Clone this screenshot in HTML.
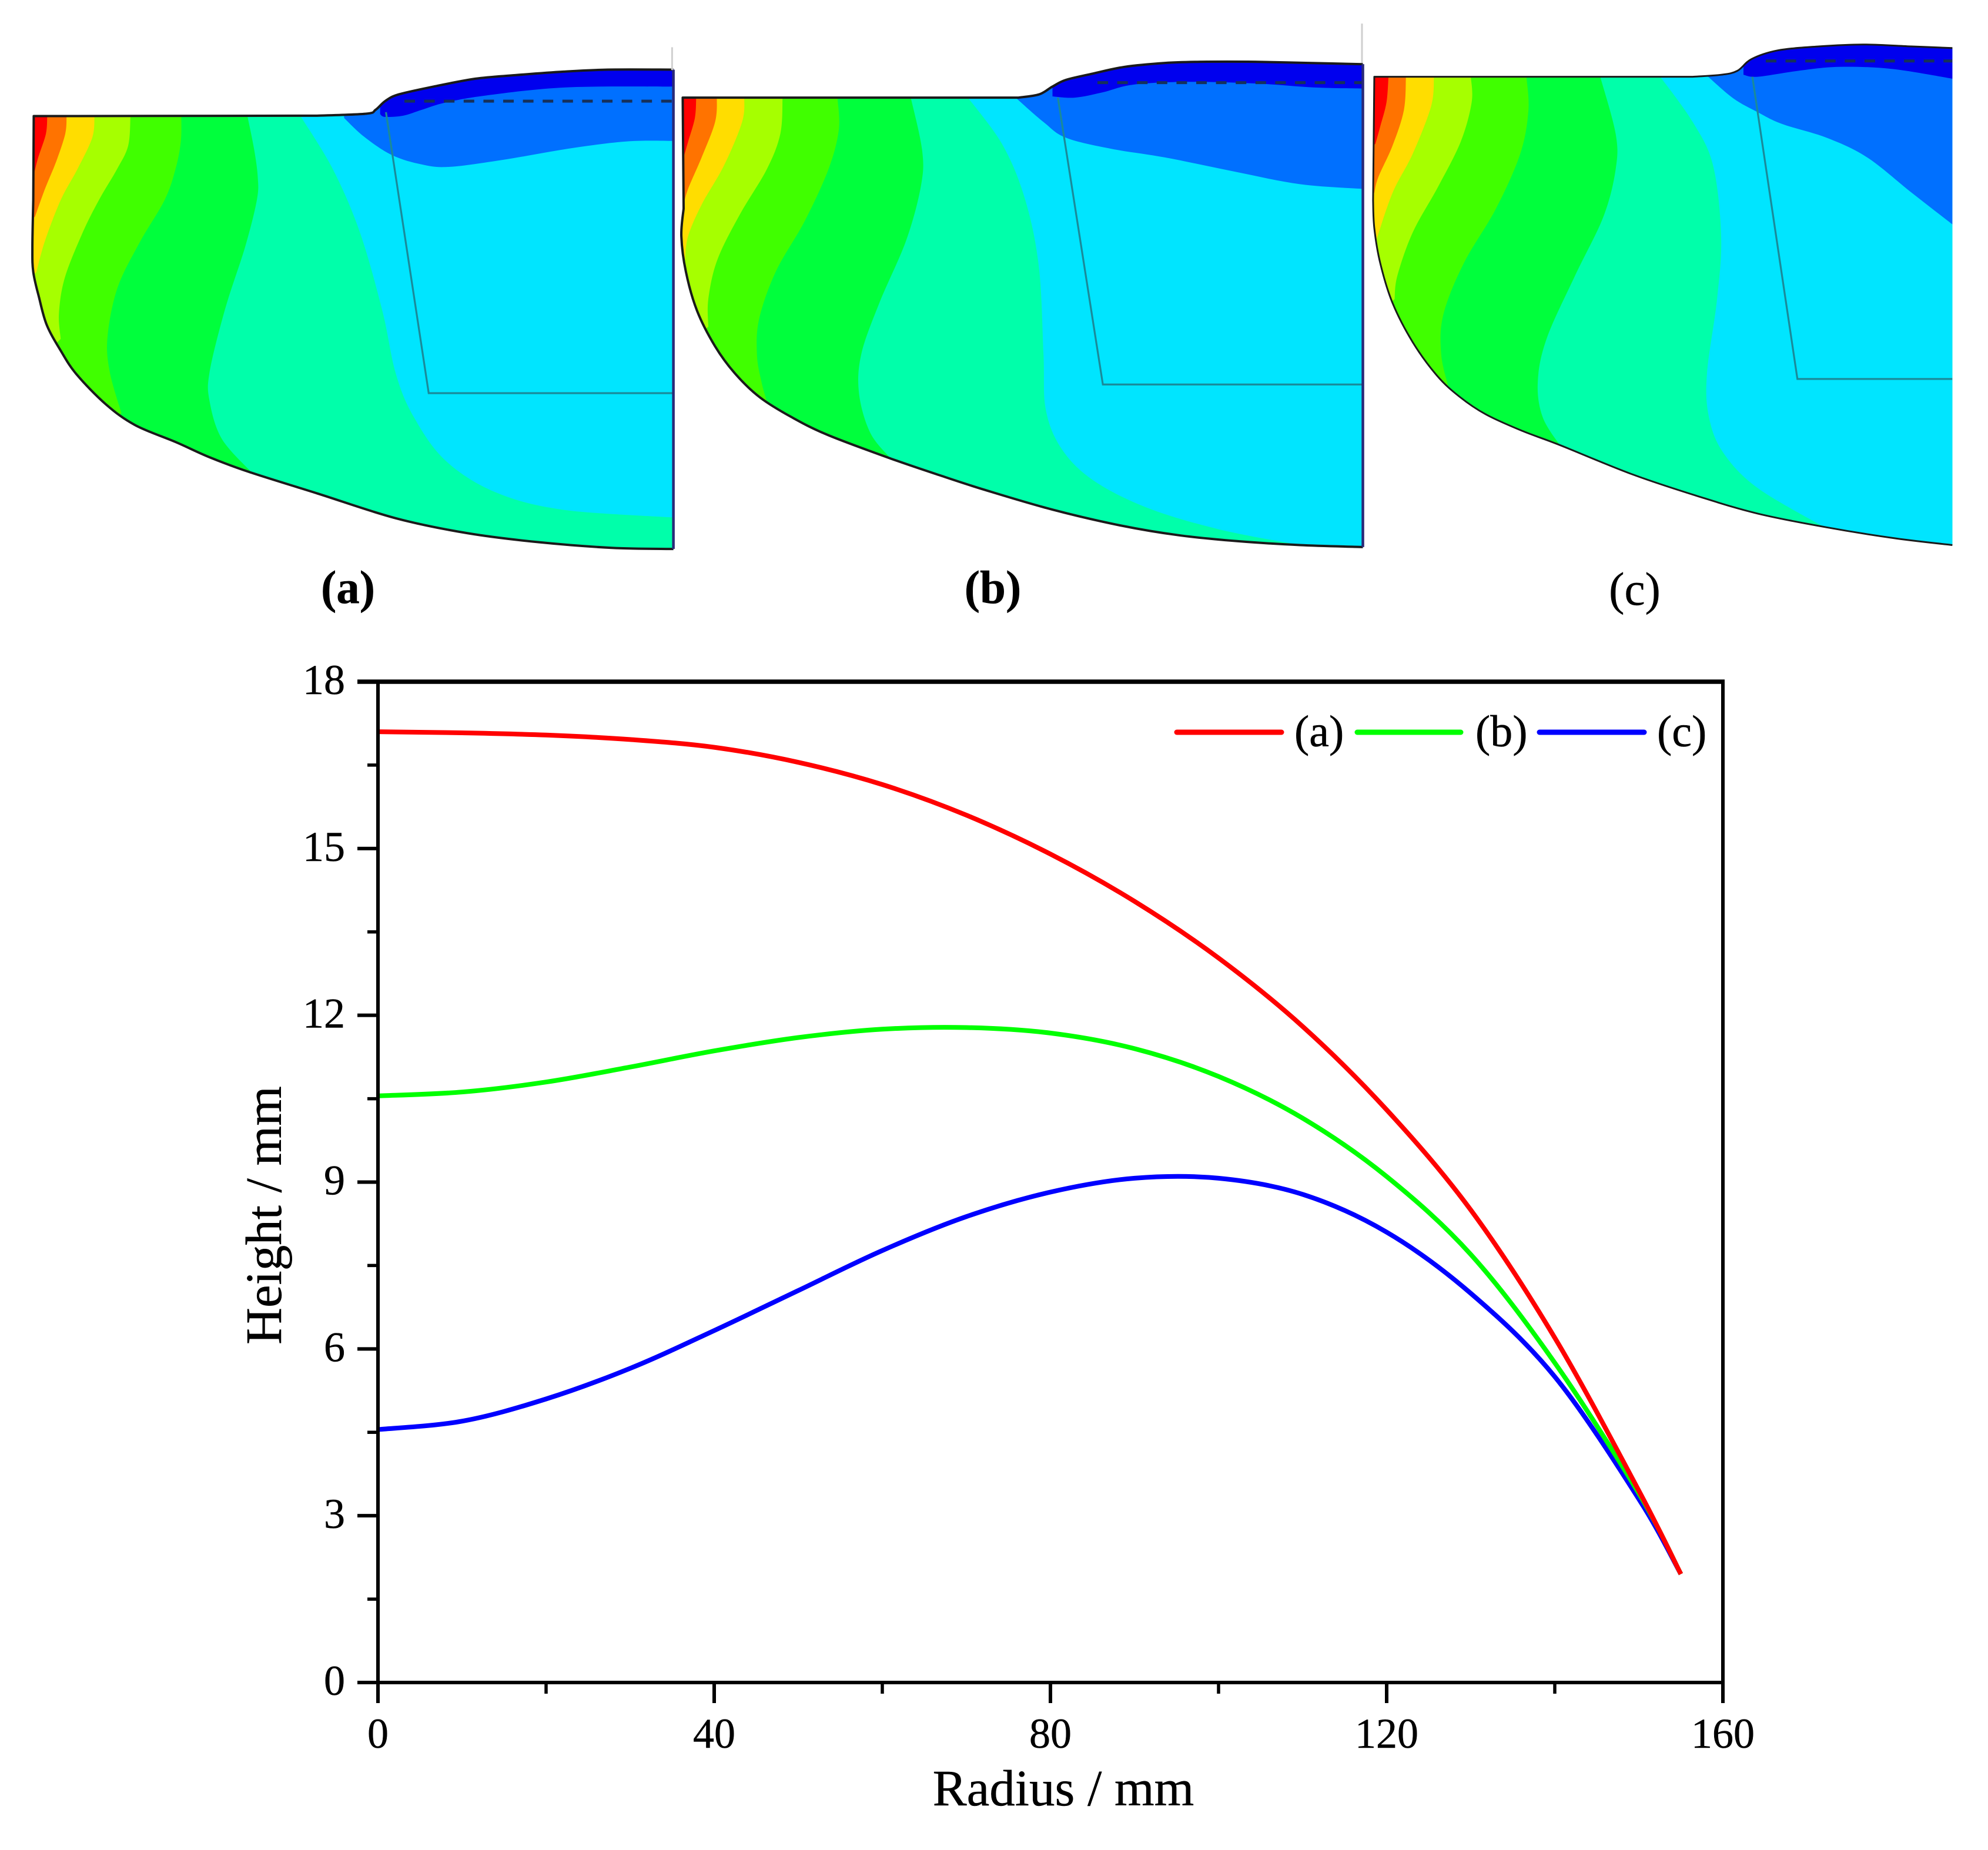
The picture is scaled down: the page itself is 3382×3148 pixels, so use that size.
<!DOCTYPE html>
<html>
<head>
<meta charset="utf-8">
<title>Contour panels and height versus radius chart</title>
<style>
html,body{margin:0;padding:0;background:#fff;}
svg{display:block;}
text{font-family:"Liberation Serif",serif;fill:#000;stroke:#000;stroke-width:0.5px;}
</style>
</head>
<body>
<svg id="figure" xmlns="http://www.w3.org/2000/svg" width="3382" height="3148" viewBox="0 0 3382 3148">
  <rect x="0" y="0" width="3382" height="3148" fill="#fff"/>
  <g id="panels"></g>
  <text x="592" y="1026" font-size="79" font-weight="bold" text-anchor="middle">(a)</text>
  <text x="1689" y="1026" font-size="79" font-weight="bold" text-anchor="middle">(b)</text>
  <text x="2781" y="1029" font-size="79" text-anchor="middle">(c)</text>
  <g id="chart"></g>
  <g>
    <line x1="2002" y1="1246" x2="2180" y2="1246" stroke="#ff0000" stroke-width="9" stroke-linecap="round"/>
    <text x="2202" y="1270" font-size="76">(a)</text>
    <line x1="2309" y1="1246" x2="2485" y2="1246" stroke="#00ff00" stroke-width="9" stroke-linecap="round"/>
    <text x="2510" y="1270" font-size="76">(b)</text>
    <line x1="2619" y1="1246" x2="2797" y2="1246" stroke="#0000ff" stroke-width="9" stroke-linecap="round"/>
    <text x="2819" y="1270" font-size="76">(c)</text>
  </g>
</svg>
<script>
// ---- chart data ----
const xTickLabels = [0, 40, 80, 120, 160];
const xMinorTicks = [20, 60, 100, 140];
const yTickLabels = [0, 3, 6, 9, 12, 15, 18];
const yMinorTicks = [1.5, 4.5, 7.5, 10.5, 13.5, 16.5];
const radiusA = [0, 10, 20, 30, 40, 50, 60, 70, 80, 90, 100, 110, 120, 130, 140, 150, 155];
const heightA = [17.1, 17.08, 17.04, 16.96, 16.82, 16.55, 16.15, 15.6, 14.9, 14.05, 13.03, 11.8, 10.3, 8.5, 6.2, 3.45, 1.95];
const radiusB = [0, 10, 20, 30, 40, 50, 60, 70, 80, 90, 100, 110, 120, 130, 140, 150, 155];
const heightB = [10.55, 10.62, 10.8, 11.07, 11.36, 11.6, 11.75, 11.78, 11.68, 11.4, 10.9, 10.15, 9.1, 7.7, 5.75, 3.4, 1.95];
const radiusC = [0, 10, 20, 30, 40, 50, 60, 70, 80, 90, 100, 110, 120, 130, 140, 150, 155];
const heightC = [4.55, 4.7, 5.1, 5.65, 6.33, 7.05, 7.77, 8.38, 8.82, 9.07, 9.07, 8.78, 8.1, 7.0, 5.5, 3.3, 1.95];

// ---- contour panel shapes ----
const contourColors = ['#ff7300', '#ffdd00', '#a6ff00', '#40ff00', '#00ff3c', '#00ffaa', '#00e5ff', '#0070ff', '#0000ee'];
const panelA = {
  name: 'a', ox: 0, sx: 1.3067, sy: 1.4933, right: 1497, rightEdge: true, strokeW: 4, top: 295, left: 75, grid: [[858, 285], [953, 999], [1497, 999]], dashY: 257, dashX: 899, guide: [1494, 120, 178],
  topCurve: [[705, 294], [814, 289], [835, 279], [856, 257], [886, 240], [964, 220], [1057, 200], [1145, 191], [1253, 182], [1351, 177], [1497, 177]],
  bottomCurve: [[1497, 1395], [1360, 1392], [1200, 1378], [1040, 1355], [880, 1317], [706, 1254], [553, 1199], [466, 1162], [392, 1124], [300, 1080], [235, 1027], [170, 951], [135, 891], [104, 826], [87, 757], [74, 691], [72, 627], [74, 508], [75, 295]],
  contours: [
    [[105, 295], [102, 340], [85, 400], [76, 440]],
    [[148, 295], [145, 340], [125, 410], [100, 480], [78, 550]],
    [[210, 295], [205, 350], [172, 430], [135, 508], [100, 612], [81, 691]],
    [[290, 295], [285, 370], [260, 430], [220, 508], [183, 593], [144, 706], [131, 796], [135, 861]],
    [[403, 295], [402, 360], [390, 430], [366, 508], [310, 617], [261, 732], [239, 856], [244, 945], [270, 1050]],
    [[550, 295], [565, 380], [573, 450], [571, 508], [545, 627], [500, 787], [466, 945], [466, 1020], [493, 1115], [558, 1199]],
    [[668, 295], [740, 430], [800, 590], [850, 790], [880, 950], [920, 1060], [990, 1170], [1100, 1250], [1250, 1295], [1497, 1315]],
    [[765, 300], [809, 347], [871, 394], [938, 418], [1000, 424], [1119, 406], [1274, 376], [1398, 359], [1497, 358]],
    [[845, 290], [856, 297], [896, 294], [938, 279], [989, 261], [1078, 243], [1258, 222], [1497, 220]]
  ]
};
const panelB = {
  name: 'b', ox: 1140, sx: 1.3067, sy: 1.4933, right: 1540, rightEdge: true, strokeW: 4, top: 248, left: 28, grid: [[862, 248], [962, 977], [1540, 977]], dashY: 210, dashX: 950, guide: [1538, 60, 160],
  topCurve: [[775, 248], [820, 240], [850, 220], [880, 203], [940, 187], [1010, 170], [1100, 160], [1180, 157], [1300, 157], [1420, 160], [1540, 163]],
  bottomCurve: [[1540, 1390], [1400, 1385], [1260, 1375], [1130, 1360], [1000, 1335], [850, 1295], [700, 1245], [600, 1208], [490, 1165], [350, 1105], [270, 1060], [200, 1010], [145, 950], [100, 880], [60, 790], [35, 690], [25, 600], [30, 530], [28, 248]],
  contours: [
    [[58, 248], [55, 300], [40, 360], [30, 400]],
    [[104, 248], [100, 310], [70, 400], [40, 480], [30, 520]],
    [[165, 248], [160, 310], [120, 420], [70, 520], [40, 600], [33, 660]],
    [[250, 248], [245, 340], [215, 430], [155, 545], [105, 660], [85, 760], [85, 830]],
    [[372, 248], [375, 330], [352, 430], [300, 560], [235, 690], [198, 810], [193, 900], [203, 970], [215, 1020]],
    [[535, 248], [560, 380], [558, 470], [525, 610], [465, 770], [425, 900], [420, 1000], [445, 1100], [490, 1165]],
    [[662, 248], [740, 370], [790, 510], [820, 680], [830, 900], [835, 1040], [870, 1140], [940, 1220], [1060, 1290], [1220, 1345], [1400, 1385]],
    [[768, 248], [830, 310], [880, 350], [980, 378], [1100, 400], [1250, 435], [1400, 468], [1540, 480]],
    [[850, 245], [900, 248], [960, 235], [1030, 215], [1150, 208], [1300, 212], [1430, 222], [1540, 225]]
  ]
};
const panelC = {
  name: 'c', ox: 2300, sx: 1.449, sy: 1.4933, right: 1480, rightEdge: false, strokeW: 3, top: 195, left: 55, grid: [[987, 195], [1098, 963], [1480, 963]], dashY: 155, dashX: 1020, guide: null,
  topCurve: [[840, 195], [910, 190], [950, 180], [985, 150], [1050, 128], [1150, 118], [1260, 113], [1380, 118], [1480, 122]],
  bottomCurve: [[1480, 1385], [1340, 1368], [1170, 1340], [1000, 1305], [850, 1260], [690, 1205], [510, 1130], [420, 1095], [330, 1053], [265, 1008], [210, 955], [150, 870], [100, 770], [70, 670], [55, 580], [52, 510], [55, 195]],
  contours: [
    [[90, 195], [85, 260], [70, 320], [58, 365]],
    [[133, 195], [128, 280], [100, 370], [65, 450], [55, 490]],
    [[202, 195], [195, 270], [150, 390], [100, 490], [60, 610]],
    [[293, 195], [295, 260], [268, 360], [212, 475], [150, 590], [112, 700], [105, 760]],
    [[430, 195], [435, 280], [415, 390], [355, 530], [275, 670], [225, 800], [220, 900], [238, 985]],
    [[612, 195], [650, 340], [650, 430], [620, 550], [550, 700], [480, 860], [458, 970], [470, 1060], [515, 1135]],
    [[760, 195], [840, 310], [890, 420], [910, 600], [900, 760], [875, 950], [880, 1060], [915, 1150], [1000, 1240], [1165, 1340]],
    [[878, 195], [940, 250], [1000, 285], [1060, 315], [1170, 350], [1270, 400], [1380, 490], [1480, 570]],
    [[965, 190], [1000, 195], [1100, 180], [1200, 170], [1330, 175], [1480, 200]]
  ]
};
const panels = [panelA, panelB, panelC];

const NS = 'http://www.w3.org/2000/svg';
function make(tag, parent, attrs) {
  const el = document.createElementNS(NS, tag);
  for (const k in attrs) el.setAttribute(k, attrs[k]);
  parent.appendChild(el);
  return el;
}
// smooth path through points (Catmull-Rom to Bezier); returns commands after the first point
function smooth(p) {
  let d = '';
  for (let i = 0; i < p.length - 1; i++) {
    const a = p[Math.max(i - 1, 0)], b = p[i], c = p[i + 1], e = p[Math.min(i + 2, p.length - 1)];
    const c1x = b[0] + (c[0] - a[0]) / 6, c1y = b[1] + (c[1] - a[1]) / 6;
    const c2x = c[0] - (e[0] - b[0]) / 6, c2y = c[1] - (e[1] - b[1]) / 6;
    d += 'C' + c1x.toFixed(1) + ' ' + c1y.toFixed(1) + ' ' + c2x.toFixed(1) + ' ' + c2y.toFixed(1) + ' ' + c[0].toFixed(1) + ' ' + c[1].toFixed(1);
  }
  return d;
}

// ---- contour panels ----
const panelRoot = document.getElementById('panels');
panels.forEach(function (P) {
  const tx = function (pt) { return [P.ox + pt[0] / P.sx, pt[1] / P.sy]; };
  const g = make('g', panelRoot, {});
  
  
  const top = P.topCurve.map(tx), bot = P.bottomCurve.map(tx);
  const tl = bot[bot.length - 1];
  const mid = bot.slice(0, -1);
  const outlineOpen = 'M' + mid[0][0] + ' ' + mid[0][1] + smooth(mid) + 'L' + tl[0] + ' ' + tl[1] + 'L' + top[0][0] + ' ' + top[0][1] + smooth(top);
  const clipId = 'clip-' + P.name;
  const defs = make('defs', g, {});
  const cp = make('clipPath', defs, { id: clipId });
  make('path', cp, { d: outlineOpen + 'Z' });
  const body = make('g', g, { 'clip-path': 'url(#' + clipId + ')' });
  const base = make('path', body, { d: outlineOpen + 'Z', fill: '#ff0000' });
  
  
  P.contours.forEach(function (raw, i) {
    const c = raw.map(tx);
    const last = raw[raw.length - 1];
    const first = c[0], end = c[c.length - 1];
    const farX = P.ox + (P.right + 100) / P.sx;
    let d = 'M' + first[0] + ' ' + first[1] + smooth(c);
    if (last[0] >= P.right - 1) {
      d += 'L' + farX + ' ' + end[1];
    } else {
      d += 'L' + (end[0] - 25) + ' ' + (end[1] + 25) + 'L' + (end[0] - 25) + ' 1200L' + farX + ' 1200';
    }
    d += 'L' + farX + ' 0L' + first[0] + ' 0Z';
    const band = make('path', body, { d: d, fill: contourColors[i] });
    
    
  });
  const gridPts = P.grid.map(tx).map(function (q) { return q.join(','); }).join(' ');
  const grid = make('polyline', body, { points: gridPts, fill: 'none', stroke: '#1a8a9a', 'stroke-width': 3.2 });
  
  
  const dash = make('line', body, { x1: P.ox + P.dashX / P.sx, x2: P.ox + P.right / P.sx, y1: P.dashY / P.sy, y2: P.dashY / P.sy, stroke: '#16305a', 'stroke-width': 5, 'stroke-dasharray': '18 15.6' });
  
  
  const outline = make('path', g, { d: outlineOpen, fill: 'none', stroke: '#1a1a1a', 'stroke-width': P.strokeW, 'stroke-linejoin': 'round' });
  
  
  if (P.rightEdge) {
    const rx = P.ox + P.right / P.sx;
    const edge = make('line', g, { x1: rx, x2: rx, y1: P.topCurve[P.topCurve.length - 1][1] / P.sy, y2: P.bottomCurve[0][1] / P.sy, stroke: '#2a2a78', 'stroke-width': 4.5 });
    
    
  }
  if (P.guide) {
    const gx = P.ox + P.guide[0] / P.sx;
    const guide = make('line', g, { x1: gx, x2: gx, y1: P.guide[1] / P.sy, y2: P.guide[2] / P.sy, stroke: '#cfcfcf', 'stroke-width': 3 });
    
    
  }
});

// ---- chart ----
const chart = document.getElementById('chart');
const X0 = 643, X1 = 2931, Y0 = 2863, Y1 = 1160;
function xScale(v) { return X0 + (v - 0) / 160 * (X1 - X0); }
function yScale(v) { return Y0 + (v - 0) / 18 * (Y1 - Y0); }

function drawSeries(name, rs, hs, color) {
  const pts = rs.map(function (r, i) { return [xScale(r), yScale(hs[i])]; });
  const line = make('path', chart, { d: 'M' + pts[0][0] + ' ' + pts[0][1] + smooth(pts), fill: 'none', stroke: color, 'stroke-width': 8, 'stroke-linejoin': 'round' });
  
  
}
drawSeries('series-c', radiusC, heightC, '#0000ff');
drawSeries('series-b', radiusB, heightB, '#00ff00');
drawSeries('series-a', radiusA, heightA, '#ff0000');

const frameTop = make('line', chart, { x1: 608, x2: X1 + 3, y1: Y1, y2: Y1, stroke: '#000', 'stroke-width': 7.5 });


const frameRight = make('line', chart, { x1: X1, x2: X1, y1: Y1, y2: Y0 + 35, stroke: '#000', 'stroke-width': 6 });


const frameLeft = make('line', chart, { x1: X0, x2: X0, y1: Y1, y2: Y0 + 35, stroke: '#000', 'stroke-width': 6 });


const frameBottom = make('line', chart, { x1: 608, x2: X1, y1: Y0, y2: Y0, stroke: '#000', 'stroke-width': 6 });



xTickLabels.forEach(function (v) {
  const x = xScale(v);
  const t = make('line', chart, { x1: x, x2: x, y1: Y0, y2: Y0 + 35, stroke: '#000', 'stroke-width': 6 });
  
  
  const l = make('text', chart, { x: x, y: 2974, 'font-size': 72, 'text-anchor': 'middle' });
  l.textContent = String(v);
  
  
});
xMinorTicks.forEach(function (v) {
  const x = xScale(v);
  const t = make('line', chart, { x1: x, x2: x, y1: Y0, y2: Y0 + 19, stroke: '#000', 'stroke-width': 5.5 });
  
  
});
yTickLabels.forEach(function (v) {
  const y = yScale(v);
  const t = make('line', chart, { x1: 608, x2: X0, y1: y, y2: y, stroke: '#000', 'stroke-width': 6 });
  
  
  const l = make('text', chart, { x: 587, y: y + 21, 'font-size': 72, 'text-anchor': 'end' });
  l.textContent = String(v);
  
  
});
yMinorTicks.forEach(function (v) {
  const y = yScale(v);
  const t = make('line', chart, { x1: 625, x2: X0, y1: y, y2: y, stroke: '#000', 'stroke-width': 5.5 });
  
  
});

const xTitle = make('text', chart, { x: 1809, y: 3072, 'font-size': 87, 'text-anchor': 'middle' });
xTitle.textContent = 'Radius / mm';


const yTitle = make('text', chart, { x: 0, y: 0, 'font-size': 87, 'text-anchor': 'middle', transform: 'translate(478 2068) rotate(-90)' });
yTitle.textContent = 'Height / mm';


</script>
</body>
</html>
